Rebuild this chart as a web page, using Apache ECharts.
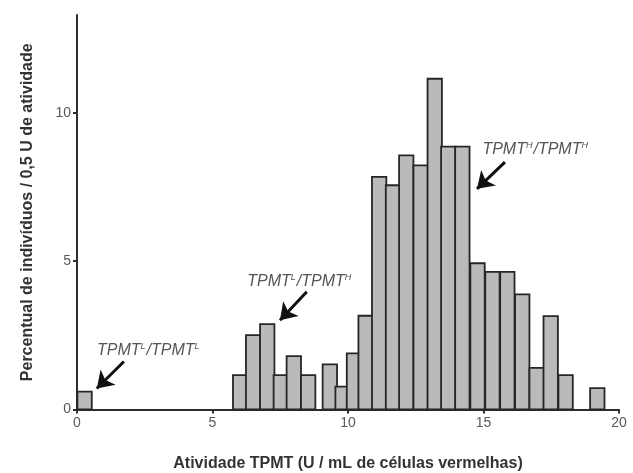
<!DOCTYPE html>
<html>
<head>
<meta charset="utf-8">
<script src="https://cdn.jsdelivr.net/npm/echarts@6/dist/echarts.min.js"></script>
<style>
html,body{margin:0;padding:0;background:#fff;}
#chart{width:633px;height:473px;}
</style>
</head>
<body>
<div id="chart"></div>
<script>
var binCenters = [0.28, 6.02, 6.50, 7.02, 7.52, 8.00, 8.53,
  9.33, 9.80, 10.22, 10.65, 11.15, 11.66, 12.15, 12.68, 13.20, 13.70, 14.22,
  14.78, 15.33, 15.88, 16.43, 16.96, 17.48, 18.03, 19.20];
var percentValues = [0.60, 1.16, 2.51, 2.88, 1.16, 1.80, 1.16,
  1.52, 0.77, 1.89, 3.16, 7.84, 7.56, 8.57, 8.23, 11.15, 8.86, 8.86,
  4.93, 4.64, 4.64, 3.88, 1.40, 3.15, 1.16, 0.72];
var xTicks = [0, 5, 10, 15, 20];
var yTicks = [0, 5, 10];

// Genotype annotations: text anchor [x, y] and arrow from tail to head (data units)
var annoText = [
  ['L', 'L'],
  ['L', 'H'],
  ['H', 'H']
];
var annoAnchor = [[0.74, 1.98], [6.28, 4.30], [14.96, 8.76]];
var arrowTail = [[1.73, 1.62], [8.48, 3.97], [15.79, 8.34]];
var arrowHead = [[0.73, 0.71], [7.49, 3.01], [14.76, 7.44]];

var BAR_W = 0.53;

var barData = binCenters.map(function (c, i) { return [c, percentValues[i]]; });
var annoData = annoAnchor.map(function (a, i) { return [a[0], a[1], i]; });
var arrows = arrowTail.map(function (t, i) {
  return [{ coord: t }, { coord: arrowHead[i] }];
});

var chart = echarts.init(document.getElementById('chart'), null, { renderer: 'canvas' });
var font = '"Liberation Sans", Arial, sans-serif';

chart.setOption({
  animation: false,
  backgroundColor: '#ffffff',
  grid: { left: 77, right: 14, top: 15, bottom: 63.5, containLabel: false, outerBoundsMode: 'none' },
  xAxis: {
    type: 'value', min: 0, max: 20, interval: 5,
    name: 'Atividade TPMT (U / mL de células vermelhas)',
    nameLocation: 'middle', nameGap: 46,
    nameTextStyle: { fontFamily: font, fontSize: 16, fontWeight: 'bold', color: '#333' },
    axisLine: { onZero: false, lineStyle: { color: '#2e2e2e', width: 2 } },
    axisTick: { length: 4, lineStyle: { color: '#2e2e2e', width: 2 }, customValues: xTicks },
    axisLabel: { fontFamily: font, fontSize: 14, color: '#5a5a5a', margin: 7, customValues: xTicks },
    splitLine: { show: false }
  },
  yAxis: {
    type: 'value', min: 0, max: 13.3,
    name: 'Percentual de indivíduos / 0,5 U de atividade',
    nameLocation: 'middle', nameGap: 41, nameRotate: 90,
    nameTextStyle: { fontFamily: font, fontSize: 16, fontWeight: 'bold', color: '#333' },
    axisLine: { show: true, onZero: false, lineStyle: { color: '#2e2e2e', width: 2 } },
    axisTick: { show: true, length: 4, lineStyle: { color: '#2e2e2e', width: 2 }, customValues: yTicks },
    axisLabel: { fontFamily: font, fontSize: 14, color: '#5a5a5a', margin: 6, customValues: yTicks },
    splitLine: { show: false }
  },
  series: [
    {
      type: 'custom',
      data: barData,
      encode: { x: 0, y: 1 },
      renderItem: function (params, api) {
        var c = api.value(0), v = api.value(1);
        var p0 = api.coord([c - BAR_W / 2, v]);
        var p1 = api.coord([c + BAR_W / 2, 0]);
        return {
          type: 'rect',
          shape: { x: p0[0], y: p0[1], width: p1[0] - p0[0], height: p1[1] - p0[1] },
          style: { fill: '#bababa', stroke: '#262626', lineWidth: 1.8 }
        };
      },
      markLine: {
        silent: true,
        symbol: ['none', 'arrow'],
        symbolSize: 16,
        label: { show: false },
        lineStyle: { color: '#111', width: 3, type: 'solid' },
        data: arrows
      },
      z: 2
    },
    {
      type: 'custom',
      data: annoData,
      encode: { x: 0, y: 1 },
      silent: true,
      renderItem: function (params, api) {
        var p = api.coord([api.value(0), api.value(1)]);
        var t = annoText[api.value(2)];
        return {
          type: 'text',
          x: p[0], y: p[1],
          style: {
            text: '{a|TPMT}{s|' + t[0] + '}{a|/TPMT}{s|' + t[1] + '}',
            verticalAlign: 'middle', align: 'left',
            rich: {
              a: { fontFamily: font, fontSize: 16, fontStyle: 'italic', fill: '#555', color: '#555' },
              s: { fontFamily: font, fontSize: 9, fontStyle: 'italic', fill: '#555', color: '#555', padding: [0, 1, 9, 0] }
            }
          }
        };
      },
      z: 3
    }
  ]
});
</script>
</body>
</html>
